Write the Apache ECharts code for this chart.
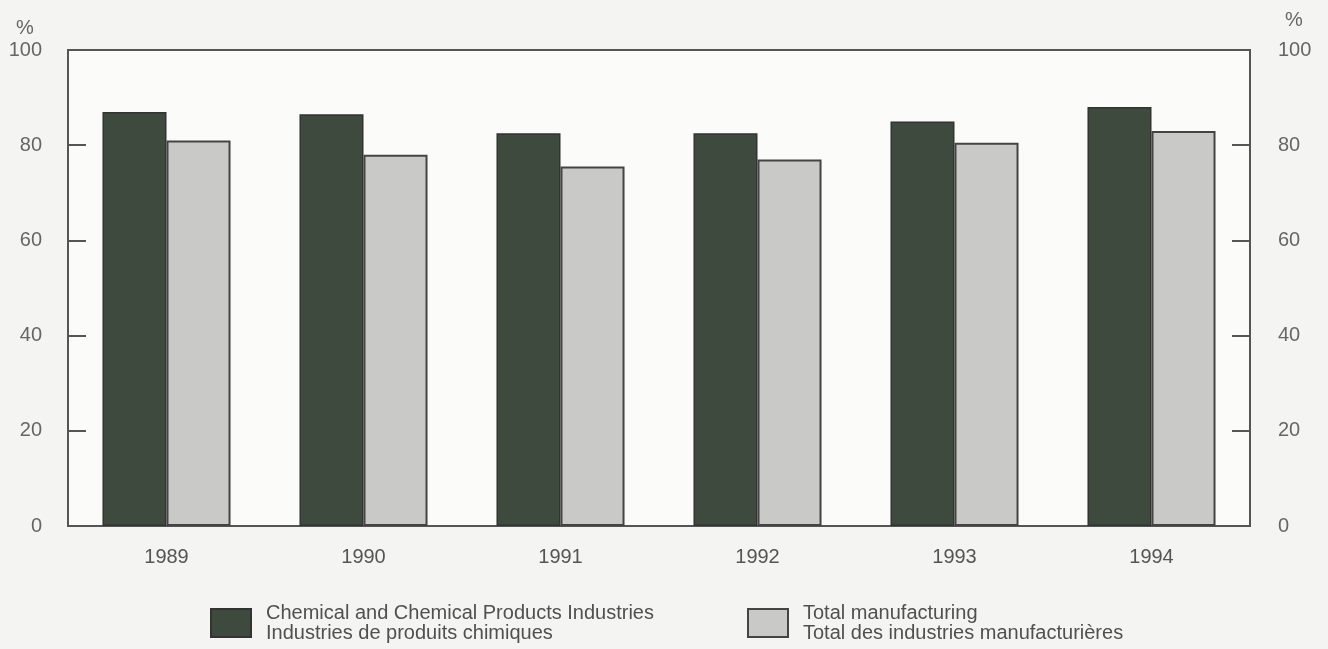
<!DOCTYPE html>
<html><head><meta charset="utf-8">
<script src="https://cdn.jsdelivr.net/npm/echarts@6/dist/echarts.min.js"></script>
<style>html,body{margin:0;padding:0;background:#f4f4f2;}#c{width:1328px;height:649px;}</style>
</head><body><div id="c"></div>
<script>
const categories = ['1989','1990','1991','1992','1993','1994'];
const chemical = [87, 86.5, 82.5, 82.5, 85, 88];
const totalMfg = [81, 78, 75.5, 77, 80.5, 83];
const yTicks = [0, 20, 40, 60, 80, 100];
const seriesNames = ['Chemical and Chemical Products Industries\nIndustries de produits chimiques',
                     'Total manufacturing\nTotal des industries manufacturières'];

const FONT = 'Liberation Sans, Arial, sans-serif';
const chart = echarts.init(document.getElementById('c'));
const axisCommon = {
  type: 'value', min: yTicks[0], max: yTicks[yTicks.length-1], interval: 20,
  axisLine: {show: true, lineStyle: {color: '#555', width: 2}},
  axisTick: {show: true, inside: true, length: 18, lineStyle: {color: '#555', width: 2}},
  splitLine: {show: false},
  axisLabel: {color: '#666', fontSize: 20, fontFamily: FONT}
};
const legendCommon = {
  top: 598, itemWidth: 40, itemHeight: 28, icon: 'rect', orient: 'horizontal',
  textStyle: {color: '#505050', fontSize: 20, lineHeight: 20, fontFamily: FONT, padding: [0, 0, 0, 10]}
};
chart.setOption({
  backgroundColor: '#f4f4f2',
  animation: false,
  grid: {left: 68, right: 78, top: 50, bottom: 123, show: true, backgroundColor: '#fbfbfa', borderColor: '#555', borderWidth: 2},
  xAxis: {
    type: 'category', data: categories,
    axisLine: {show: true, lineStyle: {color: '#555', width: 2}},
    axisTick: {show: false},
    axisLabel: {color: '#555', fontSize: 20, margin: 21, fontFamily: FONT}
  },
  yAxis: [
    Object.assign({}, axisCommon, {position: 'left', axisLabel: Object.assign({}, axisCommon.axisLabel, {margin: 26})}),
    Object.assign({}, axisCommon, {position: 'right', axisLabel: Object.assign({}, axisCommon.axisLabel, {margin: 28})})
  ],
  legend: [
    Object.assign({}, legendCommon, {left: 205, data: [seriesNames[0]]}),
    Object.assign({}, legendCommon, {left: 742, data: [seriesNames[1]]})
  ],
  series: [
    {name: seriesNames[0], type: 'bar', data: chemical, barGap: '0%', barCategoryGap: '35%',
     itemStyle: {color: '#3f4a3f', borderColor: '#333', borderWidth: 1.5}},
    {name: seriesNames[1], type: 'bar', data: totalMfg,
     itemStyle: {color: '#c9cac8', borderColor: '#444', borderWidth: 2}}
  ],
  graphic: [
    {type: 'text', left: 16, top: 18, style: {text: '%', fill: '#666', fontSize: 20, fontFamily: FONT}},
    {type: 'text', left: 1285, top: 10, style: {text: '%', fill: '#666', fontSize: 20, fontFamily: FONT}}
  ]
});
</script></body></html>
